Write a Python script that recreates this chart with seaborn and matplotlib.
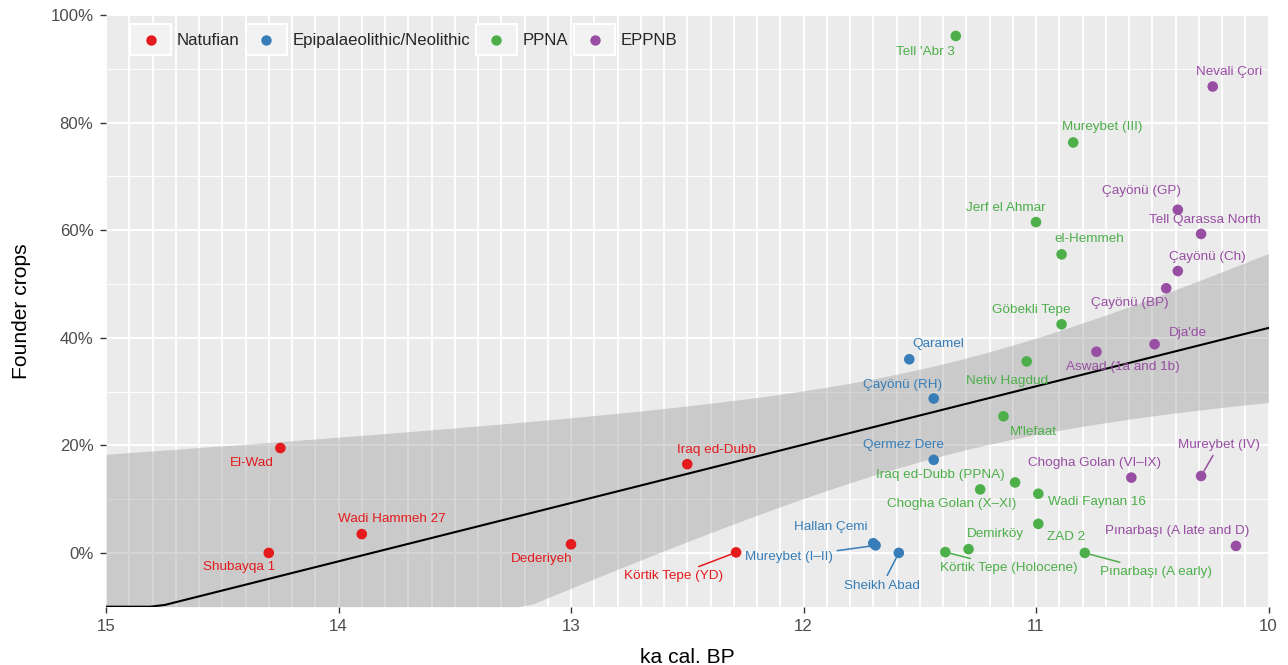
import numpy as np
import pandas as pd
import matplotlib
matplotlib.use("Agg")
import matplotlib.pyplot as plt
from matplotlib.patches import Rectangle
from matplotlib.lines import Line2D
from matplotlib.legend_handler import HandlerBase
from matplotlib.ticker import FuncFormatter
import seaborn as sns

periods = ["Natufian", "Epipalaeolithic/Neolithic", "PPNA", "EPPNB"]
colours = ["#E41A1C", "#377EB8", "#4DAF4A", "#984EA3"]

natufian_sites = ["El-Wad", "Shubayqa 1", "Wadi Hammeh 27", "Dederiyeh", "Iraq ed-Dubb", "Körtik Tepe (YD)"]
natufian_age = [14.25, 14.30, 13.90, 13.00, 12.50, 12.29]
natufian_founder = [19.5, 0.0, 3.5, 1.6, 16.5, 0.1]

epineo_sites = ["Qaramel", "Çayönü (RH)", "Qermez Dere", "Hallan Çemi", "Mureybet (I–II)", "Sheikh Abad"]
epineo_age = [11.545, 11.44, 11.44, 11.70, 11.69, 11.59]
epineo_founder = [36.0, 28.7, 17.3, 1.8, 1.4, 0.0]

ppna_sites = ["Tell 'Abr 3", "Mureybet (III)", "Jerf el Ahmar", "el-Hemmeh", "Göbekli Tepe",
              "Netiv Hagdud", "M'lefaat", "Iraq ed-Dubb (PPNA)", "Chogha Golan (X–XI)",
              "Wadi Faynan 16", "ZAD 2", "Demirköy", "Körtik Tepe (Holocene)", "Pınarbaşı (A early)"]
ppna_age = [11.345, 10.84, 11.00, 10.89, 10.89, 11.04, 11.14, 11.09, 11.24, 10.99, 10.99, 11.29, 11.39, 10.79]
ppna_founder = [96.1, 76.3, 61.5, 55.5, 42.5, 35.6, 25.4, 13.1, 11.8, 11.0, 5.4, 0.7, 0.15, 0.0]

eppnb_sites = ["Nevali Çori", "Çayönü (GP)", "Tell Qarassa North", "Çayönü (Ch)", "Çayönü (BP)",
               "Dja'de", "Aswad (1a and 1b)", "Chogha Golan (VI–IX)", "Mureybet (IV)",
               "Pınarbaşı (A late and D)"]
eppnb_age = [10.24, 10.39, 10.29, 10.39, 10.44, 10.49, 10.74, 10.59, 10.29, 10.14]
eppnb_founder = [86.7, 63.8, 59.3, 52.4, 49.2, 38.8, 37.4, 14.0, 14.3, 1.3]

# label placement (pixels from the point, +dy = down), like ggrepel output
label_offsets = {
    "El-Wad": (-29, 15), "Shubayqa 1": (-30, 14), "Wadi Hammeh 27": (30, -15),
    "Dederiyeh": (-29, 15), "Iraq ed-Dubb": (29, -14), "Körtik Tepe (YD)": (-63, 24),
    "Qaramel": (29, -15), "Çayönü (RH)": (-31, -14), "Qermez Dere": (-30, -15),
    "Hallan Çemi": (-42, -16), "Mureybet (I–II)": (-87, 12), "Sheikh Abad": (-17, 33),
    "Tell 'Abr 3": (-30, 16), "Mureybet (III)": (29, -15), "Jerf el Ahmar": (-30, -14),
    "el-Hemmeh": (28, -15), "Göbekli Tepe": (-30, -14), "Netiv Hagdud": (-20, 20),
    "M'lefaat": (30, 16), "Iraq ed-Dubb (PPNA)": (-75, -7), "Chogha Golan (X–XI)": (-29, 15),
    "Wadi Faynan 16": (59, 8), "ZAD 2": (28, 13), "Demirköy": (27, -15),
    "Körtik Tepe (Holocene)": (63, 16), "Pınarbaşı (A early)": (71, 19),
    "Nevali Çori": (16, -15), "Çayönü (GP)": (-36, -19), "Tell Qarassa North": (4, -14),
    "Çayönü (Ch)": (30, -14), "Çayönü (BP)": (-36, 15), "Dja'de": (33, -11),
    "Aswad (1a and 1b)": (26, 15), "Chogha Golan (VI–IX)": (-37, -15),
    "Mureybet (IV)": (18, -31), "Pınarbaşı (A late and D)": (-59, -15),
}
segment_sites = {"Körtik Tepe (YD)", "Mureybet (I–II)", "Sheikh Abad",
                 "Körtik Tepe (Holocene)", "Pınarbaşı (A early)", "Mureybet (IV)"}

frames = []
for p, s, a, f in zip(periods,
                      [natufian_sites, epineo_sites, ppna_sites, eppnb_sites],
                      [natufian_age, epineo_age, ppna_age, eppnb_age],
                      [natufian_founder, epineo_founder, ppna_founder, eppnb_founder]):
    frames.append(pd.DataFrame({"site": s, "age": a, "founder": f, "period": p}))
df = pd.concat(frames, ignore_index=True)
pal = dict(zip(periods, colours))

# linear fit with 95% confidence band (like geom_smooth(method = "lm"))
x = df["age"].to_numpy()
y = df["founder"].to_numpy()
n = len(x)
slope, intercept = np.polyfit(x, y, 1)
resid = y - (intercept + slope * x)
s_err = np.sqrt(np.sum(resid ** 2) / (n - 2))
t_crit = 2.032  # t(0.975, df=34)
xs = np.linspace(10, 15, 80)
fit = intercept + slope * xs
half = t_crit * s_err * np.sqrt(1 / n + (xs - x.mean()) ** 2 / np.sum((x - x.mean()) ** 2))
ylo, yhi = -10, 100
fit_c = np.clip(fit, ylo, yhi)
lo_c = np.clip(fit - half, ylo, yhi)
hi_c = np.clip(fit + half, ylo, yhi)

sns.set_theme(style="darkgrid")
plt.rcParams["font.family"] = ["Liberation Sans", "DejaVu Sans"]

fig = plt.figure(figsize=(12.88, 6.65), dpi=100)
ax = fig.add_axes([106 / 1288, 1 - 606.7 / 665, 1162.5 / 1288, 591.7 / 665])
ax.set_facecolor("#EBEBEB")
for sp in ax.spines.values():
    sp.set_visible(False)

ax.fill_between(xs, lo_c, hi_c, color="#999999", alpha=0.4, linewidth=0, zorder=2)
ax.plot(xs, fit_c, color="black", lw=1.5, zorder=3)

sns.scatterplot(data=df, x="age", y="founder", hue="period", palette=pal, s=58,
                linewidth=0, legend=False, ax=ax, zorder=4, clip_on=False)

for row in df.itertuples():
    c = pal[row.period]
    dx, dy = label_offsets[row.site]
    kw = {}
    if row.site in segment_sites:
        kw["arrowprops"] = dict(arrowstyle="-", color=c, lw=1.1, shrinkA=1, shrinkB=4)
    ax.annotate(row.site, (row.age, row.founder), xytext=(dx, -dy),
                textcoords="offset pixels", ha="center", va="center",
                color=c, fontsize=9.7, zorder=5, **kw)

ax.set_xlim(15, 10)
ax.set_ylim(ylo, yhi)
ax.set_xticks([15, 14, 13, 12, 11, 10])
ax.set_xticks(np.round(np.arange(10, 15.01, 0.1), 1), minor=True)
ax.set_yticks([0, 20, 40, 60, 80, 100])
ax.set_yticks([10, 30, 50, 70, 90], minor=True)
ax.yaxis.set_major_formatter(FuncFormatter(lambda v, _: f"{v:.0f}%"))
ax.set_axisbelow(True)
ax.grid(False)
ax.grid(which="major", axis="both", color="white", lw=1.3)
ax.grid(which="minor", axis="x", color="white", lw=1.3)
ax.grid(which="minor", axis="y", color="white", lw=0.65)
ax.tick_params(which="major", length=4.5, width=1.0, color="#333333",
               labelsize=12.1, labelcolor="#4D4D4D", pad=4.5,
               bottom=True, left=True)
ax.tick_params(which="minor", length=0)

ax.set_xlabel("ka cal. BP", fontsize=15.1, color="black", labelpad=10)
ax.set_ylabel("Founder crops", fontsize=15.1, color="black", labelpad=14)


class KeyHandler(HandlerBase):
    def create_artists(self, legend, orig_handle, xdescent, ydescent, width, height, fontsize, trans):
        box = Rectangle((-xdescent, -ydescent), width, height, facecolor="#F2F2F2",
                        edgecolor="white", linewidth=1.5, transform=trans)
        dot = Line2D([-xdescent + width / 2], [-ydescent + height / 2], marker="o",
                     markersize=7.5, markeredgewidth=0, color=orig_handle.get_color(),
                     linestyle="none", transform=trans)
        return [box, dot]


handles = [Line2D([], [], color=c) for c in colours]
ax.legend(handles, periods, handler_map={Line2D: KeyHandler()}, ncol=4,
          loc="upper left", bbox_to_anchor=(24 / 1162.5, 1 - 9 / 591.7),
          frameon=False, fontsize=12.1, handlelength=2.44, handleheight=2.5,
          handletextpad=0.34, columnspacing=0.36, borderaxespad=0, borderpad=0)

fig.savefig("out.png", dpi=100)
